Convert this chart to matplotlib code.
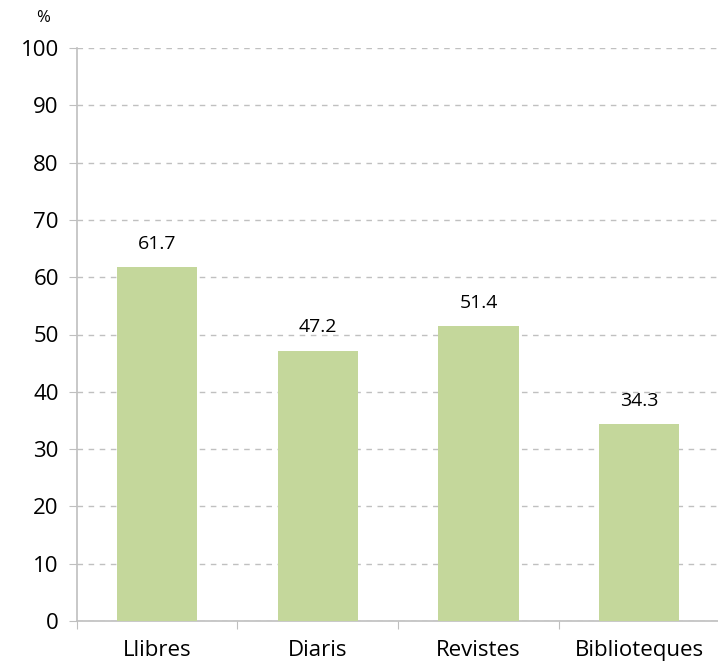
import matplotlib
matplotlib.use("Agg")
import matplotlib.pyplot as plt

# dades
categories = ["Llibres", "Diaris", "Revistes", "Biblioteques"]
values = [61.7, 47.2, 51.4, 34.3]
yticks = [0, 10, 20, 30, 40, 50, 60, 70, 80, 90, 100]

plt.rcParams['font.family'] = ['Open Sans', 'DejaVu Sans']

fig = plt.figure(figsize=(7.18, 6.69), dpi=100)
ax = fig.add_axes([0.107, 0.072, 0.895, 0.856])

x = range(len(categories))
bars = ax.bar(x, values, width=0.5, color="#c4d79b", zorder=3)

for b, v in zip(bars, values):
    ax.text(b.get_x() + b.get_width() / 2, v + 2.6, f"{v:.1f}",
            ha="center", va="bottom", fontsize=14, color="#000000")

ax.set_xlim(-0.5, len(categories) - 0.5)
ax.set_ylim(0, 100)
ax.set_yticks(yticks)
ax.tick_params(axis="y", labelsize=16, length=6, color="#bfbfbf", pad=7)

# marques de l'eix x entre categories
ax.set_xticks([i - 0.5 for i in range(len(categories) + 1)])
ax.set_xticklabels([])
ax.set_xticks(list(x), minor=True)
ax.set_xticklabels(categories, minor=True, fontsize=16)
ax.tick_params(axis="x", which="major", length=6, color="#bfbfbf")
ax.tick_params(axis="x", which="minor", length=0, pad=14)

ax.grid(axis="y", linestyle=(0, (4, 4)), color="#c0c0c0", linewidth=1, zorder=0)

for side in ["top", "right"]:
    ax.spines[side].set_visible(False)
for side in ["left", "bottom"]:
    ax.spines[side].set_color("#bfbfbf")
    ax.spines[side].set_linewidth(1.2)

fig.text(0.06, 0.973, "%", fontsize=12, ha="center", va="center")

fig.savefig("out.png", dpi=100)
